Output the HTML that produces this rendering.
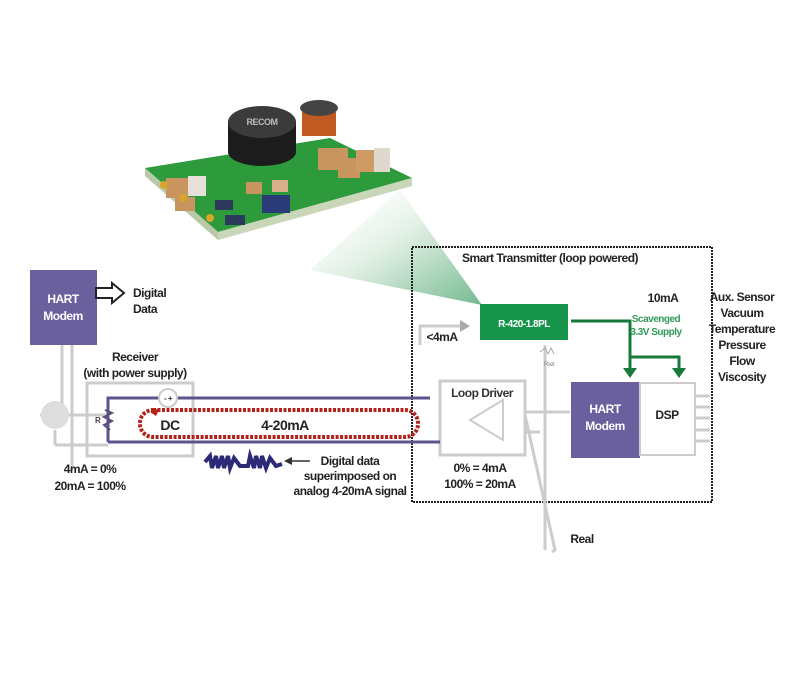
<!DOCTYPE html>
<html><head><meta charset="utf-8"><style>
html,body{margin:0;padding:0;background:#fff;}
svg{display:block;font-family:"Liberation Sans",Arial,sans-serif;font-weight:bold;}
text{letter-spacing:-0.5px;}
</style></head><body>
<svg width="800" height="675" viewBox="0 0 800 675" xmlns="http://www.w3.org/2000/svg">
<defs>
<linearGradient id="beam" x1="0" y1="0" x2="1" y2="1">
<stop offset="0" stop-color="#fff" stop-opacity="0"/>
<stop offset="0.5" stop-color="#d6eadb"/>
<stop offset="1" stop-color="#5cae7c"/>
</linearGradient>
</defs>
<rect width="800" height="675" fill="#fff"/>
<polygon points="310,270 400,190 482,305" fill="url(#beam)" opacity="0.85"/>
<!-- PCB -->
<polygon points="145,168 330,138 412,178 218,232" fill="#2d9a3c"/>
<polygon points="145,168 218,232 218,240 145,176" fill="#b9c9a8"/>
<polygon points="218,232 412,178 412,186 218,240" fill="#c9d6b8"/>
<rect x="166" y="178" width="22" height="20" fill="#c8955e"/><rect x="188" y="176" width="18" height="20" fill="#e6e0d8"/>
<rect x="175" y="197" width="20" height="14" fill="#c8955e"/>
<rect x="215" y="200" width="18" height="10" fill="#2b3a5a"/><rect x="225" y="215" width="20" height="10" fill="#2b3a5a"/>
<rect x="262" y="195" width="28" height="18" fill="#2b3b78"/>
<rect x="246" y="182" width="16" height="12" fill="#c8955e"/><rect x="272" y="180" width="16" height="12" fill="#d8b08a"/>
<rect x="318" y="148" width="30" height="22" fill="#c8955e"/><rect x="338" y="158" width="22" height="20" fill="#c8955e"/>
<rect x="356" y="150" width="18" height="22" fill="#d09a66"/><rect x="374" y="148" width="16" height="24" fill="#e0d8cc"/>
<ellipse cx="262" cy="152" rx="34" ry="14" fill="#1c1c1c"/>
<rect x="228" y="122" width="68" height="30" fill="#1c1c1c"/>
<ellipse cx="262" cy="122" rx="34" ry="16" fill="#3b3b3b"/>
<text x="262" y="125" font-size="9" fill="#bbb" text-anchor="middle">RECOM</text>
<rect x="302" y="112" width="34" height="24" fill="#c05a22"/>
<ellipse cx="319" cy="108" rx="19" ry="8" fill="#444"/>
<circle cx="164" cy="185" r="4" fill="#d8a42a"/><circle cx="183" cy="198" r="4" fill="#d8a42a"/><circle cx="210" cy="218" r="4" fill="#d8a42a"/>
<!-- smart transmitter dashed box -->
<rect x="412" y="247" width="300" height="255" fill="none" stroke="#222" stroke-width="2" stroke-dasharray="2,1"/>
<text x="550" y="262" font-size="12" text-anchor="middle" fill="#222">Smart Transmitter (loop powered)</text>
<g stroke="#ccc" stroke-width="3" fill="none">
<polyline points="420,345 420,326 460,326"/>
<line x1="525" y1="412" x2="570" y2="412"/>
<line x1="525" y1="432" x2="540" y2="432"/>
<polyline points="525,415 555,550 552,552"/>
<polyline points="545,345 545,550"/>
<line x1="695" y1="396" x2="710" y2="396"/><line x1="695" y1="407" x2="710" y2="407"/><line x1="695" y1="418" x2="710" y2="418"/><line x1="695" y1="430" x2="710" y2="430"/><line x1="695" y1="441" x2="710" y2="441"/>
<line x1="62" y1="345" x2="62" y2="415"/><line x1="72" y1="345" x2="72" y2="470"/>
<line x1="55" y1="430" x2="55" y2="445"/><line x1="55" y1="445" x2="108" y2="445"/>
<line x1="40" y1="415" x2="108" y2="415"/>
</g>
<polygon points="460,320 470,326 460,332" fill="#aaa"/>
<circle cx="55" cy="415" r="14" fill="#ddd"/>
<rect x="87" y="383" width="106" height="73" fill="none" stroke="#ccc" stroke-width="3"/>
<rect x="440" y="381" width="85" height="74" fill="#fff" stroke="#ccc" stroke-width="3"/>
<polygon points="503,400 470,420 503,440" fill="#fff" stroke="#ccc" stroke-width="2"/>
<text x="482" y="397" font-size="12" text-anchor="middle" fill="#333">Loop Driver</text>
<g stroke="#5b558e" stroke-width="3" fill="none">
<polyline points="108,442 108,398 160,398"/>
<line x1="177" y1="398" x2="430" y2="398"/>
<line x1="108" y1="442" x2="440" y2="442"/>
</g>
<polyline points="105,410 112,413 104,417 112,421 104,425 110,430" stroke="#5b4a7a" stroke-width="2" fill="none"/>
<text x="95" y="423" font-size="8" fill="#444">R</text>
<circle cx="168" cy="398" r="9" fill="#fff" stroke="#ccc" stroke-width="2"/>
<text x="168" y="401" font-size="8" text-anchor="middle" fill="#333">- +</text>
<rect x="140" y="410" width="278" height="27" rx="13" fill="none" stroke="#b0231c" stroke-width="4" stroke-dasharray="3,1.5"/>
<polygon points="150,412 160,408 156,416" fill="#c0231c"/>
<text x="170" y="430" font-size="14" text-anchor="middle" fill="#222">DC</text>
<text x="285" y="430" font-size="14" text-anchor="middle" fill="#222">4-20mA</text>
<path d="M205,462 L210,456 L212,468 L216,456 L218,468 L222,456 L224,468 L228,456 L230,468 L234,458 L240,466 L248,466 L250,456 L254,468 L256,456 L260,468 L262,456 L266,468 L270,458 L276,466 L282,464" stroke="#2c2a78" stroke-width="4" fill="none"/>
<line x1="290" y1="461" x2="310" y2="461" stroke="#333" stroke-width="1.5"/>
<polygon points="284,461 292,457 292,465" fill="#333"/>
<g font-size="12" text-anchor="middle" fill="#222">
<text x="350" y="465">Digital data</text>
<text x="350" y="480">superimposed on</text>
<text x="350" y="495">analog 4-20mA signal</text>
<text x="90" y="473">4mA = 0%</text>
<text x="90" y="490">20mA = 100%</text>
<text x="135" y="361">Receiver</text>
<text x="135" y="377">(with power supply)</text>
<text x="480" y="472">0% = 4mA</text>
<text x="480" y="488">100% = 20mA</text>
<text x="663" y="302">10mA</text>
<text x="742" y="301">Aux. Sensor</text>
<text x="742" y="317">Vacuum</text>
<text x="742" y="333">Temperature</text>
<text x="742" y="349">Pressure</text>
<text x="742" y="365">Flow</text>
<text x="742" y="381">Viscosity</text>
<text x="582" y="543">Real</text>
<text x="442" y="341">&lt;4mA</text>
</g>
<text x="133" y="297" font-size="12" fill="#222">Digital</text>
<text x="133" y="313" font-size="12" fill="#222">Data</text>
<rect x="30" y="270" width="67" height="75" fill="#6a609e"/>
<text x="63" y="303" font-size="12" fill="#fff" text-anchor="middle">HART</text>
<text x="63" y="320" font-size="12" fill="#fff" text-anchor="middle">Modem</text>
<polygon points="96,288 112,288 112,283 124,293 112,303 112,298 96,298" fill="#fff" stroke="#222" stroke-width="2"/>
<rect x="480" y="304" width="88" height="36" fill="#15944a"/>
<text x="524" y="327" font-size="10" fill="#fff" text-anchor="middle">R-420-1.8PL</text>
<polyline points="540,352 545,348 548,354 551,348 554,354" stroke="#aaa" fill="none"/>
<text x="549" y="366" font-size="6" fill="#888" font-weight="normal" text-anchor="middle">Rset</text>
<g stroke="#187a3a" stroke-width="3" fill="none">
<polyline points="571,321 630,321 630,370"/>
<polyline points="630,357 679,357 679,370"/>
</g>
<polygon points="623,368 637,368 630,378" fill="#187a3a"/>
<polygon points="672,368 686,368 679,378" fill="#187a3a"/>
<text x="656" y="322" font-size="10" fill="#2f9a5a" text-anchor="middle">Scavenged</text>
<text x="656" y="335" font-size="10" fill="#2f9a5a" text-anchor="middle">3.3V Supply</text>
<rect x="571" y="382" width="69" height="76" fill="#6a609e"/>
<text x="605" y="413" font-size="12" fill="#fff" text-anchor="middle">HART</text>
<text x="605" y="430" font-size="12" fill="#fff" text-anchor="middle">Modem</text>
<rect x="640" y="383" width="55" height="72" fill="#fff" stroke="#ccc" stroke-width="2"/>
<text x="667" y="419" font-size="12" fill="#222" text-anchor="middle">DSP</text>
</svg>
</body></html>
